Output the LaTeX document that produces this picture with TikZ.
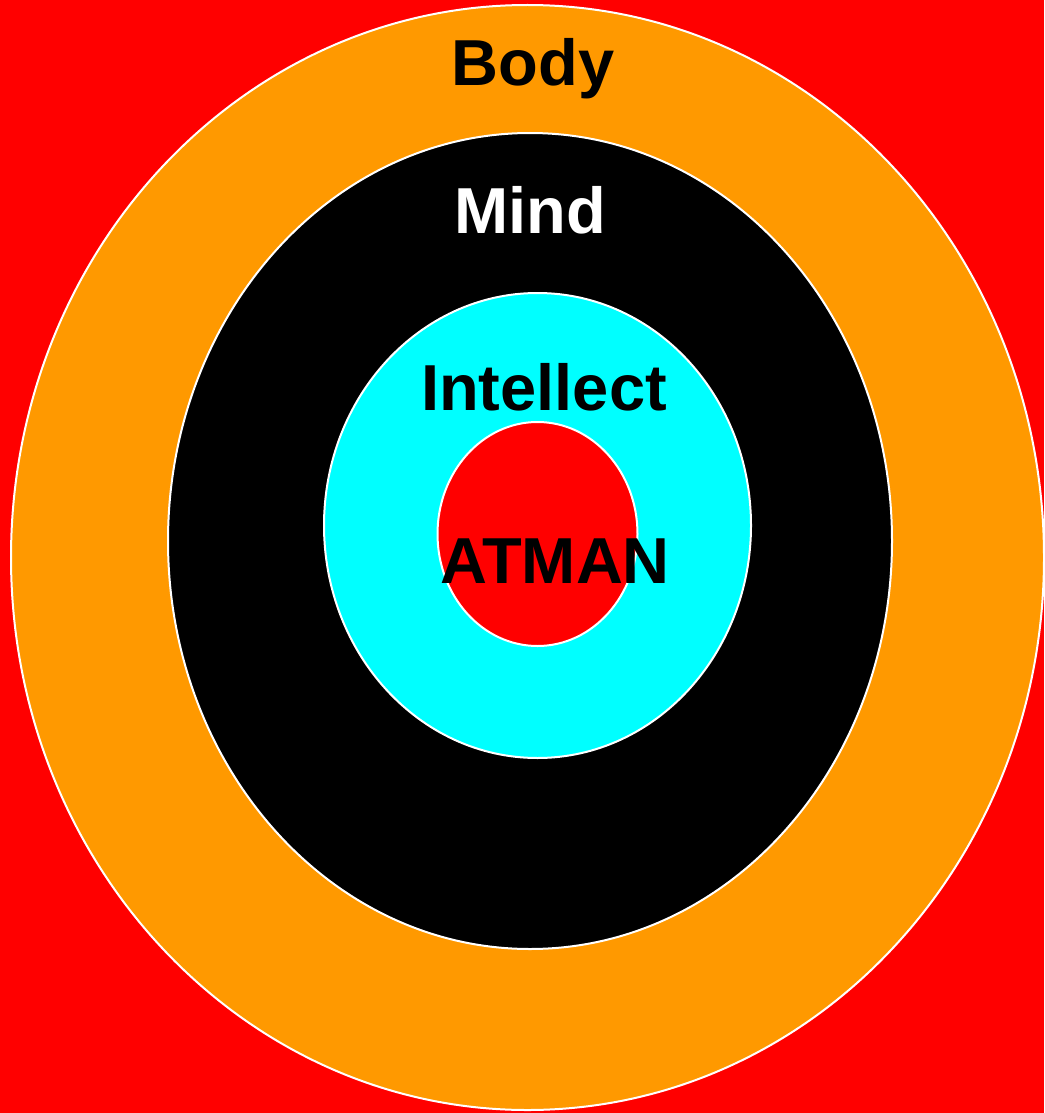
\documentclass[tikz,border=0pt]{standalone}
\usepackage{fontspec}
\setmainfont{Liberation Sans}
\usetikzlibrary{positioning}
\definecolor{bodyorange}{HTML}{FF9900}
\definecolor{atmanred}{HTML}{FF0000}
\definecolor{intellectcyan}{HTML}{00FFFF}
\tikzset{
	layer/.style={draw=white, line width=2pt},
	layertext/.style={font=\fontsize{65}{78}\selectfont\bfseries, anchor=base, inner sep=0pt}
}

\begin{document}
\begin{tikzpicture}[x=1pt, y=-1pt]
      \useasboundingbox (0,0) rectangle (1044,1113);
      \fill[atmanred] (0,0) rectangle (1044,1113);
      % nested layers, outside in
      \draw[layer, fill=bodyorange] (527.5,557.5) ellipse [x radius=516.5, y radius=552.5];
      \draw[layer, fill=black] (530,541) ellipse [x radius=362, y radius=408];
      \draw[layer, fill=intellectcyan] (537.5,525.5) ellipse [x radius=213.5, y radius=232.5];
      \draw[layer, fill=atmanred] (537.5,534) ellipse [x radius=100, y radius=112];
      % labels
      \node[layertext] (body) at (533,86) {Body};
      \node[layertext, text=white] (mind) at (530,233) {Mind};
      \node[layertext] (intellect) at (544,410) {Intellect};
      \node[layertext] (atman) at (555,583) {ATMAN};
    \end{tikzpicture}
\end{document}
